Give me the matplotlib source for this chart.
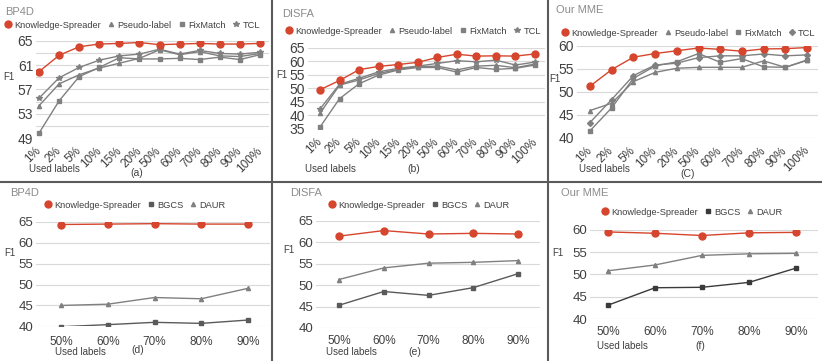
import matplotlib
matplotlib.use("Agg")
import matplotlib.pyplot as plt
import matplotlib.transforms as mtransforms
from matplotlib.lines import Line2D

plt.rcParams['font.family'] = ['Liberation Sans', 'DejaVu Sans']

# ---- data ----
cats_top = ['1%', '2%', '5%', '10%', '15%', '20%', '50%', '60%', '70%', '80%', '90%', '100%']
cats_mme = ['1%', '2%', '5%', '10%', '20%', '50%', '60%', '70%', '80%', '90%', '100%']
cats_bot = ['50%', '60%', '70%', '80%', '90%']

a_ks = [59.9, 62.6, 64.0, 64.45, 64.55, 64.7, 64.35, 64.45, 64.55, 64.45, 64.45, 64.55]
a_pl = [54.3, 57.9, 59.4, 60.5, 61.3, 62.1, 63.5, 62.7, 63.2, 62.5, 62.4, 62.9]
a_fm = [49.8, 55.1, 59.1, 60.6, 62.2, 62.0, 62.0, 62.1, 61.9, 62.3, 61.9, 62.7]
a_tcl = [55.55, 58.9, 60.6, 61.8, 62.5, 62.8, 63.6, 62.8, 63.4, 62.9, 62.8, 63.1]

b_ks = [49.5, 52.9, 56.9, 58.1, 58.8, 59.6, 61.4, 62.6, 61.9, 62.0, 61.9, 62.7]
b_pl = [40.8, 51.2, 53.1, 55.5, 57.0, 58.0, 58.2, 56.8, 58.2, 58.5, 57.6, 59.0]
b_fm = [35.7, 46.2, 51.7, 54.9, 56.8, 57.7, 57.7, 56.0, 57.7, 57.0, 57.4, 58.6]
b_tcl = [42.4, 51.5, 53.7, 56.1, 57.4, 58.2, 59.2, 60.2, 59.8, 60.4, 58.6, 59.7]

c_ks = [51.2, 54.8, 57.5, 58.3, 58.9, 59.5, 59.2, 58.8, 59.3, 59.35, 59.6]
c_pl = [45.9, 47.5, 52.2, 54.2, 55.1, 55.3, 55.3, 55.3, 56.7, 55.3, 56.8]
c_fm = [41.5, 46.5, 52.9, 55.6, 56.5, 58.3, 56.4, 57.2, 55.4, 55.3, 56.9]
c_tcl = [43.3, 48.3, 53.5, 55.8, 56.2, 57.4, 57.8, 57.8, 58.2, 57.8, 58.0]

d_ks = [64.4, 64.5, 64.6, 64.5, 64.5]
d_bgcs = [39.9, 40.4, 40.95, 40.7, 41.5]
d_daur = [45.0, 45.3, 46.9, 46.6, 49.1]

e_ks = [61.4, 62.7, 61.9, 62.05, 61.9]
e_bgcs = [45.3, 48.5, 47.6, 49.4, 52.65]
e_daur = [51.3, 54.0, 55.1, 55.3, 55.7]

f_ks = [59.5, 59.2, 58.7, 59.3, 59.4]
f_bgcs = [43.1, 47.0, 47.1, 48.2, 51.4]
f_daur = [50.8, 52.1, 54.25, 54.6, 54.7]

RED = '#D6452D'
GRAY = '#808080'
DARK = '#5A5A5A'
TXT = '#404040'
W, H = 822, 361

fig = plt.figure(figsize=(W / 100, H / 100), dpi=100)


def fx(x):
    return x / W


def fy(y):
    return 1 - y / H


def make_axes(left, first, last, right, top, bottom, n):
    s = (last - first) / (n - 1)
    ax = fig.add_axes([fx(left), fy(bottom), fx(right - left), (bottom - top) / H])
    ax.set_xlim(-(first - left) / s, n - 1 + (right - last) / s)
    for sp in ax.spines.values():
        sp.set_visible(False)
    ax.tick_params(length=0, colors=TXT)
    ax.grid(axis='y', color='#D9D9D9', lw=0.8)
    ax.set_axisbelow(True)
    return ax


def top_panel(ax, cats, series, ylim, yticks, ylabels):
    x = range(len(cats))
    for vals, mk, col, ms in series:
        ax.plot(x, vals, color=col, marker=mk, ms=ms, lw=1, zorder=3 if col == RED else 2)
    ax.set_ylim(*ylim)
    ax.set_yticks(yticks)
    ax.set_yticklabels(ylabels, fontsize=10)
    ax.tick_params(axis='y', pad=2)
    ax.set_xticks(list(x))
    ax.set_xticklabels(cats, fontsize=8.5, rotation=45, ha='right', va='center',
                       rotation_mode='anchor')
    off = mtransforms.ScaledTranslation(5 / 100, 0, fig.dpi_scale_trans)
    for lab in ax.get_xticklabels():
        lab.set_transform(lab.get_transform() + off)
    ax.tick_params(axis='x', pad=8)


def bot_panel(ax, cats, series, ylim, yticks, xpad):
    x = range(len(cats))
    for vals, mk, col, ms in series:
        ax.plot(x, vals, color=col, marker=mk, ms=ms, lw=1, zorder=3 if col == RED else 2)
    ax.set_ylim(*ylim)
    ax.set_yticks(yticks)
    ax.tick_params(axis='y', labelsize=9.5, pad=2)
    ax.set_xticks(list(x))
    ax.set_xticklabels(cats, fontsize=8.5)
    ax.tick_params(axis='x', pad=xpad)


def legend(ax, items, x, y, colsp):
    handles = [Line2D([], [], ls='none', marker=m, color=c, ms=s) for _, m, c, s in items]
    ax.legend(handles, [t for t, _, _, _ in items], loc='center left',
              bbox_to_anchor=(fx(x), fy(y)), bbox_transform=fig.transFigure,
              ncol=len(items), frameon=False, fontsize=6.7, handlelength=0.6,
              handletextpad=0.35, columnspacing=colsp, borderpad=0, borderaxespad=0,
              labelcolor=TXT)


def texts(title, tx, ty, f1x, f1y, ulx, uly, lab, lx, ly):
    fig.text(fx(tx), fy(ty), title, fontsize=8, color='#8C8C8C', va='center')
    fig.text(fx(f1x), fy(f1y), 'F1', fontsize=7, color=TXT, va='center')
    fig.text(fx(ulx), fy(uly), 'Used labels', fontsize=7, color=TXT, va='center')
    fig.text(fx(lx), fy(ly), lab, fontsize=7.5, color=TXT, va='center', ha='center')


# ---- (a) BP4D ----
ax = make_axes(36, 39, 260, 269, 40.7, 138, 12)
top_panel(ax, cats_top, [(a_pl, '^', GRAY, 3), (a_fm, 's', GRAY, 3),
                         (a_tcl, '*', GRAY, 4), (a_ks, 'o', RED, 5)],
          (49, 65), list(range(49, 66, 2)),
          [str(v) if (v - 49) % 4 == 0 else '' for v in range(49, 66, 2)])
legend(ax, [('Knowledge-Spreader', 'o', RED, 5), ('Pseudo-label', '^', GRAY, 3),
            ('FixMatch', 's', GRAY, 3), ('TCL', '*', GRAY, 4)], 5, 25, 0.85)
texts('BP4D', 5, 12, 3, 77, 29, 169, '(a)', 137, 173)

# ---- (b) DISFA ----
ax = make_axes(308, 320, 535, 545, 47.7, 129, 12)
top_panel(ax, cats_top, [(b_pl, '^', GRAY, 3), (b_fm, 's', GRAY, 3),
                         (b_tcl, '*', GRAY, 4), (b_ks, 'o', RED, 5)],
          (35, 65), list(range(35, 66, 5)), [str(v) for v in range(35, 66, 5)])
legend(ax, [('Knowledge-Spreader', 'o', RED, 5), ('Pseudo-label', '^', GRAY, 3),
            ('FixMatch', 's', GRAY, 3), ('TCL', '*', GRAY, 4)], 286, 31, 0.85)
texts('DISFA', 282, 14, 276, 75, 305, 169, '(b)', 414, 169)

# ---- (c) Our MME ----
ax = make_axes(577, 590, 807, 818, 45.7, 137.7, 11)
top_panel(ax, cats_mme, [(c_pl, '^', GRAY, 3), (c_fm, 's', GRAY, 3),
                         (c_tcl, 'D', GRAY, 3), (c_ks, 'o', RED, 5)],
          (40, 60), list(range(40, 61, 5)), [str(v) for v in range(40, 61, 5)])
legend(ax, [('Knowledge-Spreader', 'o', RED, 5), ('Pseudo-label', '^', GRAY, 3),
            ('FixMatch', 's', GRAY, 3), ('TCL', 'D', GRAY, 3)], 562, 33, 0.8)
texts('Our MME', 556, 10, 549, 79, 579, 169, '(C)', 688, 174)

# ---- (d) BP4D ----
ax = make_axes(36, 61, 248, 270, 222, 326.3, 5)
bot_panel(ax, cats_bot, [(d_bgcs, 's', DARK, 3), (d_daur, '^', GRAY, 3),
                         (d_ks, 'o', RED, 5)], (40, 65), list(range(40, 66, 5)), 7)
legend(ax, [('Knowledge-Spreader', 'o', RED, 5), ('BGCS', 's', DARK, 3),
            ('DAUR', '^', GRAY, 3)], 45, 205, 0.8)
texts('BP4D', 10, 193, 4, 253, 55, 352, '(d)', 138, 350)

# ---- (e) DISFA ----
ax = make_axes(316, 339, 518, 540, 220.7, 328, 5)
bot_panel(ax, cats_bot, [(e_bgcs, 's', DARK, 3), (e_daur, '^', GRAY, 3),
                         (e_ks, 'o', RED, 5)], (40, 65), list(range(40, 66, 5)), 5)
legend(ax, [('Knowledge-Spreader', 'o', RED, 5), ('BGCS', 's', DARK, 3),
            ('DAUR', '^', GRAY, 3)], 329, 205, 0.8)
texts('DISFA', 290, 193, 283, 250, 326, 352, '(e)', 415, 352)

# ---- (f) Our MME ----
ax = make_axes(590, 608, 796, 818, 229.7, 319, 5)
bot_panel(ax, cats_bot, [(f_bgcs, 's', '#3A3A3A', 3), (f_daur, '^', GRAY, 3),
                         (f_ks, 'o', RED, 5)], (40, 60), list(range(40, 61, 5)), 5)
legend(ax, [('Knowledge-Spreader', 'o', RED, 5), ('BGCS', 's', '#3A3A3A', 3),
            ('DAUR', '^', GRAY, 3)], 602, 212, 0.8)
texts('Our MME', 561, 193, 552, 253, 597, 346, '(f)', 700, 346)

# panel separators
for xs in (272, 548):
    fig.add_artist(Line2D([fx(xs), fx(xs)], [0, 1], color='#5A5A5A', lw=1.5))
fig.add_artist(Line2D([0, 1], [fy(182), fy(182)], color='#5A5A5A', lw=1.5))

fig.savefig('out.png', dpi=100)
